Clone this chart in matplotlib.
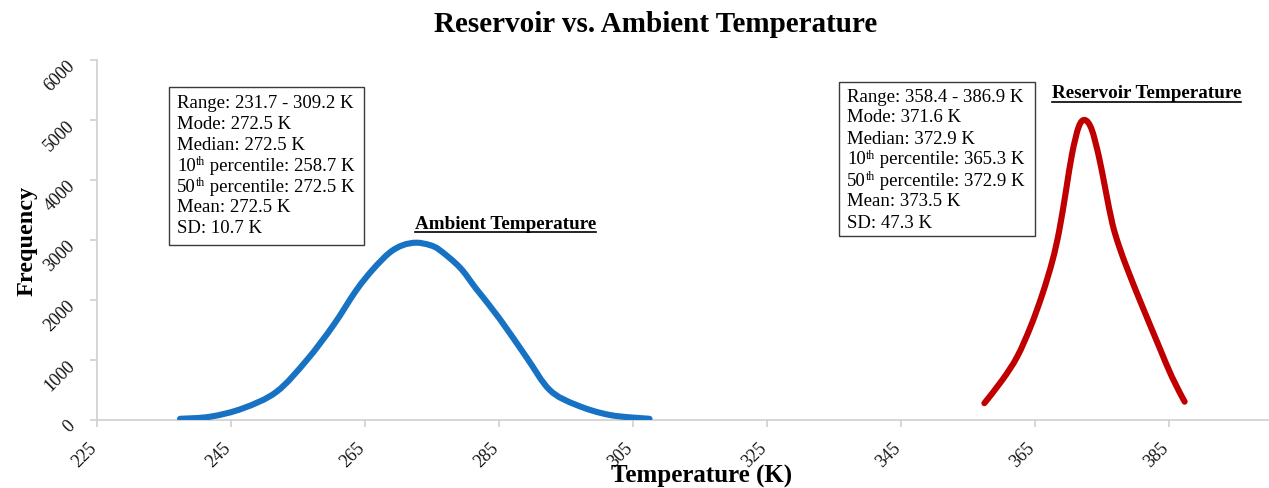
import re
import numpy as np
import matplotlib
matplotlib.use("Agg")
import matplotlib.pyplot as plt
import matplotlib.transforms as mtransforms
from matplotlib.path import Path
from matplotlib.patches import PathPatch, Rectangle
from matplotlib.lines import Line2D

plt.rcParams['font.family'] = ['Liberation Serif', 'DejaVu Serif']

# ---------------- data ----------------
ambient_temp = [237.4, 241.9, 246.8, 251.8, 256.3, 260.3, 263.7, 266.2, 268.7, 270.7,
                272.7, 274.7, 276.2, 279.2, 281.6, 285.1, 289.1, 292.6, 296.6, 301.6, 307.5]
ambient_freq = [20, 55, 195, 470, 995, 1580, 2160, 2510, 2790, 2915,
                2955, 2915, 2830, 2540, 2190, 1690, 1050, 500, 250, 83, 20]

reservoir_temp = [357.5, 360.2, 362.4, 364.4, 366.2, 367.7, 368.7, 369.7, 370.6, 371.6,
                  372.5, 373.5, 374.6, 375.6, 376.6, 377.6, 379.1, 381.1, 383.6, 385.5, 387.4]
reservoir_freq = [280, 670, 1055, 1555, 2110, 2670, 3170, 3830, 4440, 4890,
                  5000, 4850, 4390, 3830, 3280, 2900, 2445, 1890, 1220, 720, 305]

x_ticks = [225, 245, 265, 285, 305, 325, 345, 365, 385]
y_ticks = [0, 1000, 2000, 3000, 4000, 5000, 6000]

title = "Reservoir vs. Ambient Temperature"
x_label = "Temperature (K)"
y_label = "Frequency"

ambient_stats = ["Range: 231.7 - 309.2 K",
                 "Mode: 272.5 K",
                 "Median: 272.5 K",
                 "10th percentile: 258.7 K",
                 "50th percentile: 272.5 K",
                 "Mean: 272.5 K",
                 "SD: 10.7 K"]
reservoir_stats = ["Range: 358.4 - 386.9 K",
                   "Mode: 371.6 K",
                   "Median: 372.9 K",
                   "10th percentile: 365.3 K",
                   "50th percentile: 372.9 K",
                   "Mean: 373.5 K",
                   "SD: 47.3 K"]
ambient_name = "Ambient Temperature"
reservoir_name = "Reservoir Temperature"

# ---------------- figure ----------------
W, H = 1269, 488
fig = plt.figure(figsize=(W / 100, H / 100), dpi=100)
ax = fig.add_axes([97 / W, (H - 420) / H, (W - 97) / W, 360 / H])
ax.set_xlim(225, 400)
ax.set_ylim(0, 6000)
renderer = fig.canvas.get_renderer()


def smooth_path(xs, ys):
    """Catmull-Rom spline expressed as cubic Bezier segments (like a smoothed line)."""
    p = np.column_stack([xs, ys]).astype(float)
    ext = np.vstack([p[0], p, p[-1]])
    verts = [p[0]]
    codes = [Path.MOVETO]
    for i in range(len(p) - 1):
        p0, p1, p2, p3 = ext[i], ext[i + 1], ext[i + 2], ext[i + 3]
        c1 = p1 + (p2 - p0) / 6.0
        c2 = p2 - (p3 - p1) / 6.0
        verts += [c1, c2, p2]
        codes += [Path.CURVE4] * 3
    return Path(verts, codes)


for xs, ys, col in [(ambient_temp, ambient_freq, '#1772C4'),
                    (reservoir_temp, reservoir_freq, '#C00000')]:
    patch = PathPatch(smooth_path(xs, ys), fill=False, edgecolor=col, lw=4.4,
                      capstyle='round', joinstyle='round', zorder=3)
    ax.add_patch(patch)

axis_col = '#d0d0d0'
for s in ['top', 'right']:
    ax.spines[s].set_visible(False)
for s in ['left', 'bottom']:
    ax.spines[s].set_color(axis_col)
    ax.spines[s].set_linewidth(1.2)

ax.set_xticks(x_ticks)
ax.set_yticks(y_ticks)
ax.set_xticklabels([str(t) for t in x_ticks], rotation=45, ha='right', va='top')
ax.set_yticklabels([str(t) for t in y_ticks], rotation=45, ha='right', va='top')
ax.tick_params(axis='x', length=5, width=1.2, color=axis_col, pad=9.4,
               labelsize=13, labelcolor='#111111')
ax.tick_params(axis='y', length=5, width=1.2, color=axis_col, pad=8.5,
               labelsize=13, labelcolor='#111111')
dx = mtransforms.ScaledTranslation(0.03, 0, fig.dpi_scale_trans)
for lab in ax.get_xticklabels():
    lab.set_transform(lab.get_transform() + dx)
dy = mtransforms.ScaledTranslation(0, 0.02, fig.dpi_scale_trans)
for lab in ax.get_yticklabels():
    lab.set_transform(lab.get_transform() + dy)

fig.text(656 / W, 1 - 24 / H, title, ha='center', va='center',
         fontsize=21, fontweight='bold')
fig.text(702 / W, 1 - 476 / H, x_label, ha='center', va='center',
         fontsize=18, fontweight='bold')
fig.text(27 / W, 1 - 241 / H, y_label, ha='center', va='center',
         fontsize=17.5, fontweight='bold', rotation=90)

FS = 13.5


def put(x_px, base_px, s, size=FS):
    t = fig.text(x_px / W, 1 - base_px / H, s, ha='left', va='baseline',
                 fontsize=size, zorder=5)
    return t.get_window_extent(renderer).x1


def stats_box(lines, box, text_x, base0, step):
    x0, y0, x1, y1 = box
    fig.add_artist(Rectangle((x0 / W, 1 - y1 / H), (x1 - x0) / W, (y1 - y0) / H,
                             transform=fig.transFigure, facecolor='white',
                             edgecolor='#3a3a3a', lw=1.0, zorder=4))
    for i, line in enumerate(lines):
        base = base0 + i * step
        m = re.match(r'^(\d+)(th)(.*)$', line)
        if m:
            xe = put(text_x, base, m.group(1))
            xe = put(xe, base - 6, m.group(2), size=8.5)
            put(xe, base, m.group(3))
        else:
            put(text_x, base, line)


stats_box(ambient_stats, (169, 87, 364, 245), 177, 108.5, 20.8)
stats_box(reservoir_stats, (839, 82, 1035, 236), 847, 101.5, 21.0)

t1 = fig.text(415 / W, 1 - 229 / H, ambient_name, ha='left', va='baseline',
              fontsize=13.8, fontweight='bold')
t2 = fig.text(1052 / W, 1 - 98.5 / H, reservoir_name, ha='left', va='baseline',
              fontsize=13.8, fontweight='bold')

for t, base in [(t1, 229), (t2, 98.5)]:
    bb = t.get_window_extent(renderer)
    yline = H - (base + 3)
    fig.add_artist(Line2D([bb.x0 / W, bb.x1 / W], [yline / H, yline / H],
                          transform=fig.transFigure, color='black', lw=1.2))

fig.savefig("out.png", dpi=100)
